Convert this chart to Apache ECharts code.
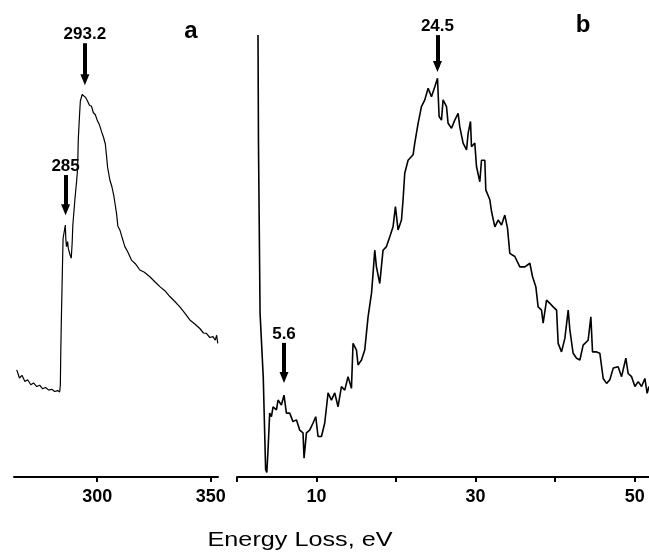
<!DOCTYPE html>
<html>
<head>
<meta charset="utf-8">
<script src="https://cdn.jsdelivr.net/npm/echarts@6/dist/echarts.min.js"></script>
<style>html,body{margin:0;padding:0;background:#fff}#c{width:649px;height:554px}</style>
</head>
<body>
<div id="c"></div>
<script>
// Panel a: C K-edge region
const aEnergy = [264.6,265.8,266.9,268.2,269.4,270.8,272.0,273.4,274.7,276.0,277.3,278.7,280.0,281.3,282.6,283.5,283.8,284.0,284.3,284.7,285.0,285.5,286.0,286.2,286.5,287.0,287.3,288.0,288.6,289.0,289.3,290.2,291.0,291.4,291.7,292.2,292.6,293.4,294.2,295.0,295.8,296.6,297.5,298.3,299.2,300.1,301.0,301.9,302.8,303.6,304.2,304.6,305.6,306.5,307.3,307.8,308.6,309.1,310.0,311.0,312.2,313.5,315.1,316.8,318.8,320.8,323.2,325.4,327.6,329.8,332.0,334.2,336.4,338.6,340.8,343.0,345.2,346.8,348.1,349.6,351.0,352.0,352.6,353.1];
const aIntensity = [23.8,22.0,22.6,21.2,21.6,20.5,20.9,20.1,20.4,19.6,19.9,19.3,19.5,19.0,19.2,18.9,20.5,28.0,36.4,46.0,53.0,54.5,56.0,53.0,51.2,52.3,50.8,49.5,48.6,52.0,56.0,61.6,66.0,68.5,75.0,80.0,83.5,85.0,84.9,84.3,83.5,82.6,82.4,81.0,80.5,79.2,78.3,76.8,75.5,74.0,71.0,68.8,66.0,64.5,62.6,61.0,58.3,55.8,54.9,53.2,51.2,50.0,48.2,47.4,46.0,45.5,44.5,43.4,42.3,41.4,40.1,39.0,37.8,36.4,34.9,34.0,33.0,32.0,31.9,31.0,31.2,30.4,31.5,29.7];
// Panel b: low-loss region
const bEnergy = [2.64,2.70,2.90,3.30,3.60,3.75,3.90,4.11,4.33,4.53,4.96,5.16,5.58,5.91,6.21,6.63,7.04,7.47,7.89,8.30,8.43,8.73,9.14,9.56,9.90,10.19,10.62,11.03,11.45,11.87,12.29,12.70,13.13,13.55,13.96,14.39,14.59,15.02,15.22,15.65,16.06,16.48,16.91,17.11,17.32,17.53,17.95,18.36,18.79,19.21,19.62,19.92,20.25,20.68,20.88,21.09,21.51,22.14,22.35,22.77,23.19,23.61,24.03,24.45,24.87,25.21,25.41,25.71,25.91,26.34,26.54,26.97,27.38,27.80,28.01,28.43,28.86,29.06,29.36,29.48,29.90,30.11,30.53,30.74,31.16,31.28,31.79,32.00,32.42,32.83,33.26,33.67,34.01,34.30,34.93,35.56,36.19,36.82,37.16,37.57,37.86,38.29,38.49,38.92,39.33,39.75,40.18,40.38,40.80,41.22,41.64,41.85,42.26,42.69,43.11,43.52,44.15,44.49,44.70,45.21,45.62,46.04,46.47,46.88,47.30,47.92,48.35,48.89,49.18,49.61,50.03,50.44,50.87,51.28,51.57,51.79];
const bIntensity = [98.2,74.2,36.4,22.2,1.6,1.0,6.0,14.2,13.4,15.6,14.9,17.1,16.0,18.2,14.2,14.2,12.3,12.7,10.4,9.8,4.2,9.8,10.4,12.0,13.4,9.0,9.0,12.0,18.7,17.1,18.7,15.6,20.1,19.3,22.3,19.7,29.7,28.2,24.9,26.0,28.2,35.6,40.8,45.3,50.4,46.7,43.0,50.4,51.2,53.4,55.6,60.1,54.9,57.1,61.6,67.5,70.4,71.6,74.2,78.6,82.3,83.8,86.4,84.5,86.7,88.6,80.1,79.3,83.8,82.3,78.6,77.5,79.3,80.8,77.8,74.2,72.7,76.4,79.0,73.4,74.2,69.0,65.6,70.4,70.4,63.8,61.6,59.0,55.6,57.1,56.0,58.2,55.3,49.7,49.0,46.7,46.7,47.5,44.5,42.3,37.8,37.1,34.2,39.3,38.6,37.8,37.1,29.7,27.8,30.8,37.1,32.7,27.5,26.4,26.0,29.3,30.4,35.6,27.8,27.8,27.5,21.9,20.8,21.6,24.2,24.5,22.3,26.4,23.0,22.3,20.1,21.2,20.1,21.9,18.6,20.1];
// Peak arrows
const aArrowX = [286.1, 294.6];
const aArrowFrom = [67.1, 96.4];
const aArrowTo = [59.4, 88.3];
const aArrowText = ['285', '293.2'];
const bArrowX = [5.91, 25.2];
const bArrowFrom = [29.8, 98.2];
const bArrowTo = [22.1, 91.2];
const bArrowText = ['5.6', '24.5'];
// Axis ticks
const aTicks = [300, 350];
const bTicks = [0, 10, 20, 30, 40, 50];
const bTickLabels = [10, 30, 50];
const xTitle = 'Energy Loss, eV';

const FONT = '"Liberation Sans", Arial, sans-serif';
const chart = echarts.init(document.getElementById('c'));

function arrows(xs, from, to, texts) {
  return xs.map((x, i) => [
    {coord: [x, from[i]], label: {formatter: texts[i]}},
    {coord: [x, to[i]]}
  ]);
}
function markLineFor(xs, from, to, texts) {
  return {
    silent: true, animation: false,
    symbol: ['none', 'triangle'], symbolSize: [9, 11],
    lineStyle: {color: '#000', width: 4, type: 'solid'},
    label: {show: true, position: 'start', distance: 0, color: '#000', fontWeight: 'bold', fontSize: 17, fontFamily: FONT},
    data: arrows(xs, from, to, texts)
  };
}
const axisCommon = {
  type: 'value',
  axisLine: {show: true, lineStyle: {color: '#000', width: 2}},
  axisTick: {show: true, length: 5, lineStyle: {color: '#000', width: 2}},
  axisLabel: {color: '#000', fontWeight: 'bold', fontSize: 18, fontFamily: FONT, margin: 11},
  splitLine: {show: false}
};

chart.setOption({
  animation: false,
  backgroundColor: '#fff',
  grid: [
    {left: 14, width: 204, top: 0, bottom: 77},
    {left: 237, right: 0, top: 0, bottom: 77}
  ],
  xAxis: [
    Object.assign({}, axisCommon, {gridIndex: 0, min: 263.4, max: 353.2,
      axisTick: Object.assign({}, axisCommon.axisTick, {customValues: aTicks}),
      axisLabel: Object.assign({}, axisCommon.axisLabel, {customValues: aTicks})}),
    Object.assign({}, axisCommon, {gridIndex: 1, min: 0, max: 51.8,
      axisTick: Object.assign({}, axisCommon.axisTick, {customValues: bTicks}),
      axisLabel: Object.assign({}, axisCommon.axisLabel, {customValues: bTickLabels})})
  ],
  yAxis: [
    {type: 'value', gridIndex: 0, min: 0, max: 106, show: false},
    {type: 'value', gridIndex: 1, min: 0, max: 106, show: false}
  ],
  series: [
    {type: 'line', xAxisIndex: 0, yAxisIndex: 0, showSymbol: false, symbol: 'none',
     lineStyle: {color: '#000', width: 1.2}, data: aEnergy.map((x, i) => [x, aIntensity[i]]),
     markLine: markLineFor(aArrowX, aArrowFrom, aArrowTo, aArrowText)},
    {type: 'line', xAxisIndex: 1, yAxisIndex: 1, showSymbol: false, symbol: 'none',
     lineStyle: {color: '#000', width: 1.6}, data: bEnergy.map((x, i) => [x, bIntensity[i]]),
     markLine: markLineFor(bArrowX, bArrowFrom, bArrowTo, bArrowText)}
  ],
  graphic: [
    {type: 'text', x: 191, y: 31, style: {text: 'a', font: 'bold 24px ' + FONT, fill: '#000', textAlign: 'center', textVerticalAlign: 'middle'}},
    {type: 'text', x: 583, y: 25, style: {text: 'b', font: 'bold 24px ' + FONT, fill: '#000', textAlign: 'center', textVerticalAlign: 'middle'}},
    {type: 'text', x: 300, y: 540, scaleX: 1.2, style: {text: xTitle, font: '21px ' + FONT, fill: '#000', textAlign: 'center', textVerticalAlign: 'middle'}}
  ]
});
</script>
</body>
</html>
